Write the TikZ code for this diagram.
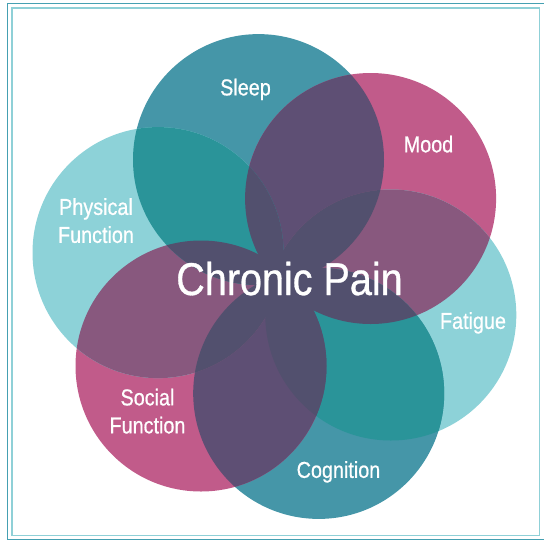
\documentclass[tikz,border=0pt]{standalone}
\usepackage{fontspec}
\setmainfont{Liberation Sans}[FakeStretch=0.86,FakeBold=0.7]
\definecolor{tealc}{HTML}{4596A8}
\definecolor{magc}{HTML}{C15B8A}
\definecolor{lightc}{HTML}{8DD2D8}
\definecolor{tealmix}{HTML}{2A9499}
\definecolor{magmix}{HTML}{88587E}
\definecolor{purpmix}{HTML}{5E4F74}
\definecolor{darkmix}{HTML}{52506E}
\definecolor{frameout}{HTML}{45A0B2}
\definecolor{framein}{HTML}{8FD0D7}
\newcommand{\crad}{125.5pt}

\begin{document}
\begin{tikzpicture}[x=1pt,y=-1pt,
  lbl/.style={text=white,align=center,anchor=north,inner sep=0pt,font=\fontsize{23}{28}\selectfont}]
  \useasboundingbox (0,0) rectangle (544,539);
  \draw[frameout,line width=1.2pt] (7.5,3.5) rectangle (544.6,540);
  \draw[framein,line width=1.8pt] (12,7.6) rectangle (539.4,535.4);
  % circle centres
  \coordinate (sleep) at (258.5,159.6);
  \coordinate (mood) at (370.6,198.5);
  \coordinate (fatigue) at (390.8,315);
  \coordinate (cognition) at (318.7,393.4);
  \coordinate (social) at (201,366);
  \coordinate (physical) at (158,252.6);
  % plain circles
  \foreach \c/\col in {sleep/tealc,mood/magc,fatigue/lightc,cognition/tealc,social/magc,physical/lightc}
    \fill[\col] (\c) circle (\crad);
  % neighbours
  \foreach \a/\b/\col in {sleep/mood/purpmix,mood/fatigue/magmix,fatigue/cognition/tealmix,
      cognition/social/purpmix,social/physical/magmix,physical/sleep/tealmix}{
    \begin{scope}
      \clip (\a) circle (\crad);
      \fill[\col] (\b) circle (\crad);
    \end{scope}
  }
  % every second circle
  \foreach \a/\b in {sleep/fatigue,mood/cognition,fatigue/social,cognition/physical,social/sleep,physical/mood}{
    \begin{scope}
      \clip (\a) circle (\crad);
      \fill[darkmix] (\b) circle (\crad);
    \end{scope}
  }
  \node[lbl] (sleeplbl) at (245.5,78.5) {Sleep};
  \node[lbl] (moodlbl) at (428.5,135.5) {Mood};
  \node[lbl] (fatiguelbl) at (473,312) {Fatigue};
  \node[lbl] (cognitionlbl) at (338.5,461) {Cognition};
  \node[lbl] (sociallbl) at (147.5,388.5) {Social\\Function};
  \node[lbl] (physicallbl) at (96,198) {Physical\\Function};
  \node[lbl,font=\fontsize{46}{50}\selectfont] (pain) at (289.5,261.5) {Chronic Pain};
\end{tikzpicture}
\end{document}
